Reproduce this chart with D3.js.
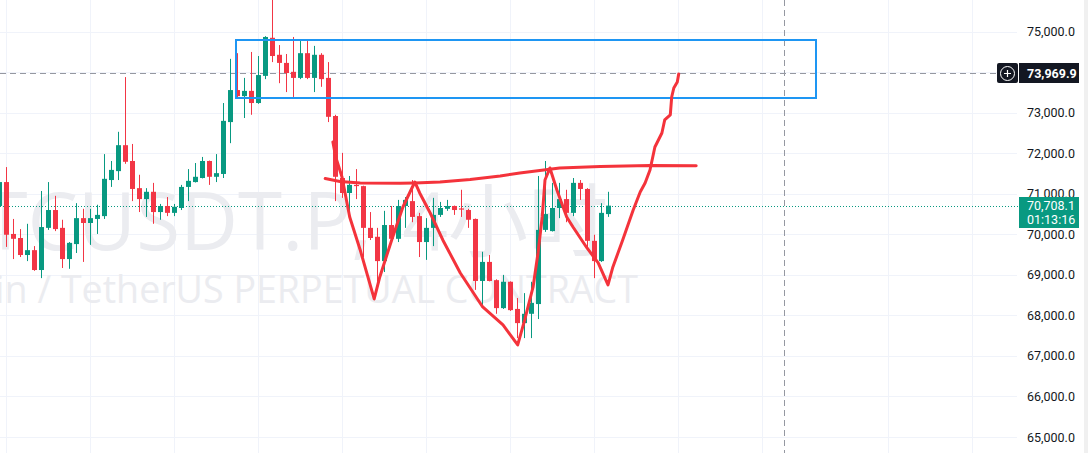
<!DOCTYPE html>
<html lang="en">
  <head>
    <meta charset="UTF-8" />
    <title>BTCUSDT.P</title>
    <script src="https://d3js.org/d3.v7.min.js"></script>
    <style>
      body {
        margin: 0;
        background: #ffffff;
      }
      .price-label {
        font-family: Roboto, "Liberation Sans", sans-serif;
        font-size: 12.5px;
        fill: #131722;
      }
      .watermark {
        font-family: "Open Sans", "Noto Sans CJK SC", sans-serif;
        fill: #ebecf0;
      }
    </style>
  </head>
  <body>
    <svg width="1088" height="453"></svg>
    <script>
      // OHLC per bar, oldest first (bar 0 is cut by the left edge)
      const opens = [
        70700, 71290, 70010, 69910, 69490, 69610, 69120, 70160, 70600, 70160,
        69390, 69760, 70400, 70280, 70380, 70450, 71340, 71560, 72200, 71810,
        71140, 70870, 71050, 70550, 70700, 70530, 70650, 71170, 71290, 71390,
        71810, 71420, 71490, 72770, 73560, 73410, 73540, 73240, 73910, 74850,
        74430, 74230, 74010, 73860, 74470, 73860, 74430, 73860, 72920, 71390,
        71020, 71220, 71190, 70160, 69940, 69340, 70230, 69890, 70700, 70820,
        70450, 69810, 70160, 70480, 70630, 70700, 70640, 70600, 70380, 68850,
        69320, 68870, 68180, 68830, 68160, 67810, 68040, 68280, 70110, 70080,
        70650, 70870, 70530, 71270, 71120, 69840, 69340, 70500,
      ];
      const highs = [
        71390, 71660, 70380, 70130, 70260, 69710, 71070, 71290, 70950, 70360,
        69810, 70770, 70630, 70630, 70730, 71980, 71810, 72530, 73880, 72230,
        71470, 71140, 71270, 70750, 70920, 70750, 71220, 71610, 71760, 71910,
        71820, 71980, 73240, 74330, 74470, 73860, 74500, 74400, 74890, 75900,
        74670, 74450, 74870, 74770, 74770, 74650, 74470, 74250, 72950, 72010,
        71440, 71610, 71200, 70550, 70160, 70580, 70700, 70850, 70920, 71340,
        70530, 70400, 70900, 70800, 70850, 70710, 71100, 70630, 70390, 69570,
        69490, 68890, 69000, 68840, 68430, 68550, 68830, 71440, 71810, 71270,
        71270, 71100, 71390, 71340, 71140, 69990, 70770, 71050,
      ];
      const lows = [
        70600, 69690, 69390, 69440, 69340, 69100, 68920, 70110, 70080, 69170,
        69150, 69540, 69320, 69740, 70010, 70380, 71170, 71340, 71740, 70820,
        70550, 70430, 70260, 70360, 70450, 70450, 70600, 70820, 71280, 71380,
        71220, 71290, 71390, 72250, 73360, 72870, 72950, 73220, 73830, 74250,
        73730, 73510, 73390, 73830, 73830, 73510, 73640, 72770, 70820, 70900,
        70530, 70870, 69440, 69860, 68830, 69070, 69860, 69810, 70160, 70300,
        69440, 69370, 69710, 70430, 70580, 70480, 70430, 70160, 68630, 68210,
        68840, 68040, 68160, 68110, 67440, 67440, 67440, 67910, 70060, 70070,
        70400, 70300, 70450, 70850, 69610, 68920, 69320, 70430,
      ];
      const closes = [
        71290, 69990, 69890, 69490, 69610, 69120, 70180, 70600, 70130, 69390,
        69790, 70400, 70280, 70400, 70480, 71370, 71590, 72200, 71790, 71120,
        70870, 71050, 70550, 70700, 70530, 70680, 71170, 71320, 71420, 71810,
        71420, 71510, 72800, 73560, 73410, 73540, 73240, 73930, 74870, 74400,
        74230, 73980, 73860, 74470, 73860, 74430, 73830, 72900, 71420, 71020,
        71220, 71190, 70160, 69910, 69340, 70230, 69890, 70700, 70850, 70430,
        69810, 70160, 70480, 70650, 70700, 70600, 70610, 70360, 68850, 69320,
        68850, 68180, 68830, 68130, 67810, 68040, 68310, 70110, 70500, 70650,
        70870, 70530, 71270, 71120, 69840, 69340, 70530, 70708.1,
      ];

      const priceTicks = [65000, 66000, 67000, 68000, 69000, 70000, 71000, 72000, 73000, 75000];
      const gridPrices = d3.range(65000, 75001, 1000);
      const timeGridBars = [1, 13, 25, 37, 49, 61, 73, 85, 97, 109, 127, 139];

      const symbolText = "BTCUSDT.P,";
      const intervalText = "4小时";
      const descriptionText = "Bitcoin / TetherUS PERPETUAL CONTRACT";
      const lastPrice = 70708.1;
      const countdown = "01:13:16";
      const crossPrice = 73969.9;
      const crossBar = 112.1;

      // drawings: [bar index, price]
      const zoneBox = { from: 33.8, to: 116.7, top: 74795, bottom: 73372 };
      const neckline = [
        [46.6, 71378], [48.7, 71304], [51.6, 71267], [57.3, 71260], [59.4, 71267],
        [63.0, 71292], [67.3, 71354], [71.6, 71440], [74.4, 71514], [78.4, 71600],
        [80.1, 71637], [85.9, 71674], [93.0, 71699], [99.6, 71694],
      ];
      const pattern = [
        [47.7, 72279], [48.1, 71909], [49.0, 71415], [50.1, 70429], [51.6, 69615],
        [53.6, 68406], [54.4, 68949], [56.1, 69861], [57.7, 70675], [59.4, 71292],
        [60.1, 71021], [61.6, 70527], [63.4, 69861], [65.9, 69047], [69.1, 68208],
        [72.0, 67764], [74.1, 67271], [75.1, 67888], [76.3, 68702], [77.0, 69540],
        [77.6, 70429], [78.0, 71341], [78.7, 71638], [79.7, 71095], [81.1, 70429],
        [82.0, 70182], [84.0, 69664], [85.6, 69294], [87.0, 68751], [87.7, 69195],
        [89.1, 69861], [90.6, 70601], [91.6, 71045], [92.3, 71267], [93.0, 71588],
        [93.7, 72155], [94.7, 72501], [95.1, 72822], [95.9, 72945], [96.1, 73389],
        [96.4, 73611], [96.9, 73759], [97.1, 73956],
      ];

      const svg = d3.select("svg");
      const paneRight = 1017;
      const green = "#089981";
      const red = "#f23645";

      const x = d3.scaleLinear().domain([0, 87]).range([-1, 608]);
      const y = d3.scaleLinear().domain([65000, 75000]).range([437, 31.7]);

      const bars = opens.map((o, i) => ({
        i: i,
        o: o,
        h: highs[i],
        l: lows[i],
        c: closes[i],
      }));

      // grid
      svg
        .append("g")
        .selectAll("line")
        .data(gridPrices)
        .enter()
        .append("line")
        .attr("x1", 0)
        .attr("x2", paneRight)
        .attr("y1", (d) => Math.round(y(d)) + 0.5)
        .attr("y2", (d) => Math.round(y(d)) + 0.5)
        .attr("stroke", "#f0f3fa");

      svg
        .append("g")
        .selectAll("line")
        .data(timeGridBars)
        .enter()
        .append("line")
        .attr("x1", (d) => Math.round(x(d)) + 0.5)
        .attr("x2", (d) => Math.round(x(d)) + 0.5)
        .attr("y1", 0)
        .attr("y2", 453)
        .attr("stroke", "#f0f3fa");

      // watermark
      const wm = svg
        .append("text")
        .attr("class", "watermark")
        .attr("y", 250)
        .attr("text-anchor", "end")
        .attr("font-size", 80);
      wm.append("tspan").attr("x", 372).text(symbolText);
      wm.append("tspan").attr("x", 608).text(intervalText);

      svg
        .append("text")
        .attr("class", "watermark")
        .attr("x", 638)
        .attr("y", 303)
        .attr("text-anchor", "end")
        .attr("font-size", 37.6)
        .text(descriptionText);

      // current price line and crosshair
      svg
        .append("line")
        .attr("x1", 0)
        .attr("x2", 1019)
        .attr("y1", Math.round(y(lastPrice)) + 0.5)
        .attr("y2", Math.round(y(lastPrice)) + 0.5)
        .attr("stroke", green)
        .attr("stroke-dasharray", "1 2");

      svg
        .append("line")
        .attr("x1", 0)
        .attr("x2", 997)
        .attr("y1", Math.round(y(crossPrice)) + 0.5)
        .attr("y2", Math.round(y(crossPrice)) + 0.5)
        .attr("stroke", "#9598a1")
        .attr("stroke-dasharray", "6 4");

      svg
        .append("line")
        .attr("x1", Math.round(x(crossBar)) + 0.5)
        .attr("x2", Math.round(x(crossBar)) + 0.5)
        .attr("y1", 0)
        .attr("y2", 453)
        .attr("stroke", "#9598a1")
        .attr("stroke-dasharray", "6 4");

      // candles
      const candle = svg
        .append("g")
        .selectAll("g")
        .data(bars)
        .enter()
        .append("g")
        .attr("fill", (d) => (d.c >= d.o ? green : red))
        .attr("stroke", (d) => (d.c >= d.o ? green : red));

      candle
        .append("line")
        .attr("x1", (d) => Math.round(x(d.i)) + 0.5)
        .attr("x2", (d) => Math.round(x(d.i)) + 0.5)
        .attr("y1", (d) => y(d.h))
        .attr("y2", (d) => y(d.l));

      candle
        .append("rect")
        .attr("stroke", "none")
        .attr("x", (d) => Math.round(x(d.i)) - 2)
        .attr("width", 5)
        .attr("y", (d) => y(Math.max(d.o, d.c)))
        .attr("height", (d) => Math.max(1, Math.abs(y(d.o) - y(d.c))));

      // drawings
      const bx0 = Math.round(x(zoneBox.from));
      const bx1 = Math.round(x(zoneBox.to));
      const by0 = Math.round(y(zoneBox.top));
      const by1 = Math.round(y(zoneBox.bottom));
      svg
        .append("rect")
        .attr("x", bx0)
        .attr("y", by0)
        .attr("width", bx1 - bx0)
        .attr("height", by1 - by0)
        .attr("fill", "none")
        .attr("stroke", "#1e96f3")
        .attr("stroke-width", 2);

      const line = d3
        .line()
        .x((d) => x(d[0]))
        .y((d) => y(d[1]));

      svg
        .selectAll("path.drawing")
        .data([neckline, pattern])
        .enter()
        .append("path")
        .attr("class", "drawing")
        .attr("d", line)
        .attr("fill", "none")
        .attr("stroke", "#f4333b")
        .attr("stroke-width", 3)
        .attr("stroke-linejoin", "round")
        .attr("stroke-linecap", "round");

      // price scale
      const axis = svg
        .append("g")
        .attr("transform", `translate(${paneRight},0)`)
        .call(
          d3
            .axisRight(y)
            .tickValues(priceTicks)
            .tickSize(0)
            .tickPadding(10)
            .tickFormat(d3.format(",.1f"))
        );
      axis.select(".domain").remove();
      axis
        .selectAll("text")
        .attr("class", "price-label")
        .attr("font-family", null)
        .attr("font-size", null)
        .attr("fill", null);

      // crosshair price badge
      const cy = Math.round(y(crossPrice));
      svg
        .append("rect")
        .attr("x", 997)
        .attr("y", cy - 10)
        .attr("width", 21)
        .attr("height", 20)
        .attr("rx", 2)
        .attr("fill", "#131722");
      svg
        .append("circle")
        .attr("cx", 1007.5)
        .attr("cy", cy + 0.5)
        .attr("r", 7)
        .attr("fill", "none")
        .attr("stroke", "#ffffff")
        .attr("stroke-width", 1);
      svg
        .append("path")
        .attr("d", `M1004,${cy + 0.5}H1011M1007.5,${cy - 3}V${cy + 4}`)
        .attr("stroke", "#ffffff")
        .attr("stroke-width", 1.2);
      svg
        .append("rect")
        .attr("x", 1019)
        .attr("y", cy - 10)
        .attr("width", 60)
        .attr("height", 20)
        .attr("fill", "#131722");
      svg
        .append("text")
        .attr("class", "price-label")
        .attr("x", 1027)
        .attr("y", cy + 4.5)
        .attr("font-weight", "bold")
        .style("fill", "#ffffff")
        .text(d3.format(",.1f")(crossPrice));

      // last price badge
      const ly = Math.round(y(lastPrice));
      svg
        .append("rect")
        .attr("x", 1019)
        .attr("y", ly - 9)
        .attr("width", 60)
        .attr("height", 31)
        .attr("fill", green);
      svg
        .append("text")
        .attr("class", "price-label")
        .attr("x", 1027)
        .attr("y", ly + 4)
        .style("fill", "#ffffff")
        .text(d3.format(",.1f")(lastPrice));
      svg
        .append("text")
        .attr("class", "price-label")
        .attr("x", 1027)
        .attr("y", ly + 18)
        .style("fill", "#ffffff")
        .text(countdown);

      // right edge strip
      svg
        .append("rect")
        .attr("x", 1084)
        .attr("y", 0)
        .attr("width", 4)
        .attr("height", 453)
        .attr("fill", "#f0f0f0");
    </script>
  </body>
</html>
